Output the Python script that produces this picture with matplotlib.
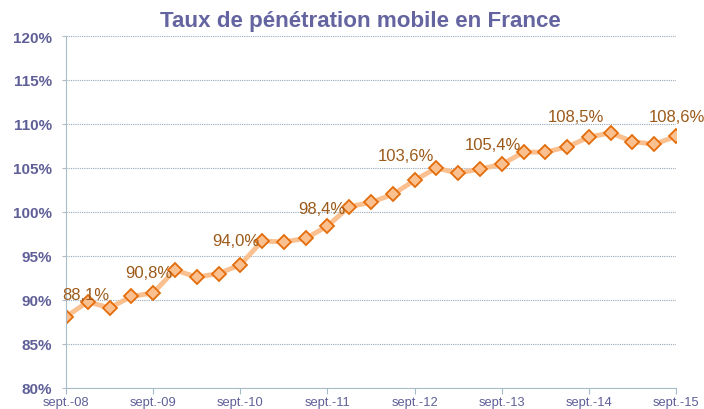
import matplotlib
matplotlib.use("Agg")
import matplotlib.pyplot as plt
import numpy as np

plt.rcParams['font.family'] = ['Liberation Sans', 'DejaVu Sans']

values = [88.1, 89.8, 89.1, 90.4, 90.8, 93.4, 92.6, 93.0, 94.0, 96.7, 96.6, 97.0,
          98.4, 100.6, 101.1, 102.0, 103.6, 105.0, 104.4, 104.9, 105.4, 106.8,
          106.8, 107.4, 108.5, 109.0, 108.0, 107.7, 108.6]
tick_labels = ['sept.-08', 'sept.-09', 'sept.-10', 'sept.-11', 'sept.-12',
               'sept.-13', 'sept.-14', 'sept.-15']
label_idx = [0, 4, 8, 12, 16, 20, 24, 28]
label_offsets = [(20, 22), (-4, 20), (-4, 24), (-6, 18), (-9, 25), (-9, 20), (-13, 21), (1, 20)]

x = np.arange(len(values))

fig = plt.figure(figsize=(7.04, 4.10), dpi=100)
ax = fig.add_axes([66/704, 1-389/410, (676-66)/704, (389-37)/410])

ax.plot(x, values, color='#FAC090', lw=3.5, zorder=2,
        marker='D', markersize=7, markerfacecolor='#FBC08F',
        markeredgecolor='#E46C0A', markeredgewidth=1.3)

for i, (dx, dy) in zip(label_idx, label_offsets):
    ax.annotate(f"{values[i]:.1f}%".replace('.', ','), (x[i], values[i]),
                xytext=(dx, dy), textcoords='offset pixels',
                ha='center', va='center', fontsize=12, color='#9C5A1A')

ax.set_xlim(0, len(values) - 1)
ax.set_ylim(80, 120)
ax.set_yticks(np.arange(80, 121, 5))
ax.set_yticklabels([f"{v}%" for v in range(80, 121, 5)], fontsize=11,
                   fontweight='bold', color='#5F5F98')
ax.set_xticks(label_idx)
ax.set_xticklabels(tick_labels, fontsize=9.3, color='#5F5F98')
ax.yaxis.grid(True, linestyle=(0, (1, 1)), color='#98A8B8', lw=0.8)
ax.set_axisbelow(True)
for s in ['top', 'right']:
    ax.spines[s].set_visible(False)
for s in ['left', 'bottom']:
    ax.spines[s].set_color('#A8BCC8')
ax.tick_params(axis='y', length=3, color='#B0BCC8', pad=7)
ax.tick_params(axis='x', length=4, color='#A8BCC8', pad=2)

fig.text(360/704, 1-22/410, 'Taux de pénétration mobile en France', ha='center',
         va='center', fontsize=16.1, fontweight='bold', color='#6464A0')

fig.savefig('out.png', dpi=100)
